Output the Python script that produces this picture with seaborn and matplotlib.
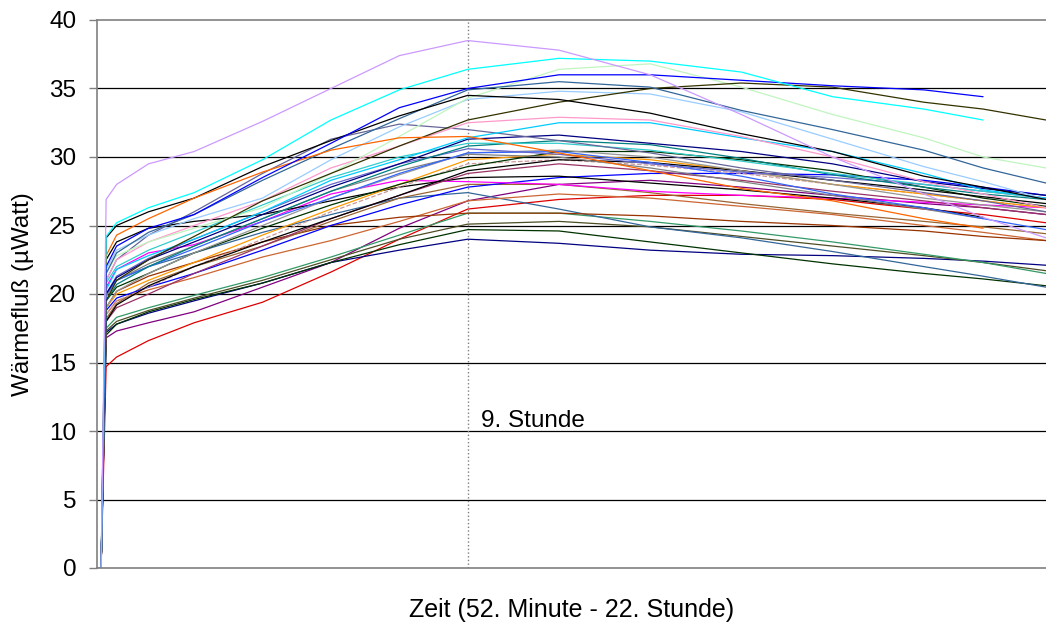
import numpy as np
import pandas as pd
import matplotlib
matplotlib.use("Agg")
import matplotlib.pyplot as plt
import seaborn as sns

# time axis in hours (52nd minute .. ~22nd hour)
time_h = [0.87, 0.96, 1.07, 1.3, 2.0, 3.0, 4.5, 6.0, 7.5, 9.0, 11.0, 13.0, 15.0, 17.0, 19.0, 20.3, 21.68]
onset = [0.0, 0.0]  # all curves sit at 0 before the jump

# heat flow (µWatt) per sample, values after the onset jump
lavender = [26.9, 28.0, 29.5, 30.4, 32.6, 35.0, 37.4, 38.5, 37.8, 36.0, 33.1, 30.0, 27.3, 25.6, 24.1]
cyan = [24.2, 25.2, 26.3, 27.4, 29.8, 32.7, 34.9, 36.4, 37.2, 37.0, 36.2, 34.4, 33.5, 32.7, None]
blue_top = [22.0, 23.5, 24.8, 25.8, 28.5, 31.0, 33.6, 35.0, 36.0, 36.0, 35.6, 35.2, 34.9, 34.4, None]
orange_dark = [22.8, 24.3, 25.5, 27.0, 28.9, 30.5, 31.4, 31.5, 30.3, 29.0, 27.7, 26.8, 25.5, 24.8, None]
black_a = [24.1, 25.0, 26.0, 27.0, 29.3, 31.2, 33.0, 34.5, 34.2, 33.2, 31.7, 30.4, 28.6, 27.8, 26.9]
slate_hi = [21.5, 23.0, 24.5, 25.8, 28.3, 30.6, 32.8, 34.9, 35.5, 35.1, 33.4, 32.0, 30.5, 29.2, 28.1]
olive_late = [19.5, 21.0, 22.5, 24.2, 26.8, 28.8, 30.8, 32.7, 34.0, 35.0, 35.4, 35.1, 34.0, 33.5, 32.7]
pale_green = [21.5, 22.8, 23.8, 24.8, 26.3, 28.8, 31.5, 34.3, 36.4, 36.8, 35.1, 33.1, 31.4, 30.0, 29.2]
sky_light = [21.8, 23.2, 24.3, 25.5, 27.0, 29.8, 32.2, 34.2, 34.8, 34.6, 33.3, 31.3, 29.3, 28.2, 26.9]
pink = [21.0, 22.5, 23.8, 25.0, 26.8, 29.2, 30.8, 32.5, 32.9, 32.7, 31.5, 30.0, 28.2, 27.3, 26.3]
sky_deep = [20.3, 21.8, 22.8, 24.0, 26.0, 28.3, 29.8, 31.4, 32.5, 32.5, 31.4, 30.4, 28.8, 27.6, 27.0]
slate = [21.0, 22.5, 24.3, 26.0, 28.8, 31.3, 32.4, 32.0, 31.2, 30.3, 29.2, 28.3, 27.4, 26.8, 26.0]
navy_mid = [20.0, 21.2, 22.5, 23.8, 25.8, 27.8, 29.5, 31.3, 31.6, 31.0, 30.4, 29.5, 28.2, 27.7, 27.2]
teal = [19.5, 20.7, 22.0, 23.5, 25.5, 27.5, 29.3, 30.8, 31.2, 30.9, 29.9, 28.7, 27.8, 27.3, 26.9]
gray_a = [19.0, 20.2, 21.5, 23.0, 25.0, 27.0, 28.7, 30.3, 30.5, 30.0, 29.0, 28.0, 27.0, 26.5, 26.0]
green_black = [19.5, 20.5, 21.5, 23.0, 24.8, 26.5, 28.0, 29.3, 30.4, 30.4, 29.8, 29.0, 27.8, 27.0, 26.4]
orange_light = [19.0, 20.0, 21.0, 22.3, 24.3, 26.2, 28.0, 29.8, 30.2, 29.8, 29.0, 28.0, 27.3, 26.8, 26.3]
rose_dashed = [18.5, 19.5, 20.5, 22.0, 24.0, 26.0, 27.8, 29.5, 29.8, 29.4, 28.8, 28.0, 27.3, 26.8, 26.3]
plum = [18.0, 19.0, 20.0, 21.5, 23.5, 25.5, 27.2, 28.8, 29.5, 29.0, 28.3, 27.5, 26.8, 26.3, 25.8]
black_flat = [22.5, 23.8, 24.8, 25.3, 25.8, 26.8, 27.8, 28.5, 28.6, 28.1, 27.6, 27.0, 26.3, 25.6, None]
magenta = [20.5, 21.8, 23.0, 23.6, 25.3, 27.3, 28.3, 28.2, 28.0, 27.5, 27.2, 27.0, 26.7, 26.5, 26.3]
blue_low = [18.8, 19.7, 20.5, 21.5, 23.2, 25.0, 26.5, 27.8, 28.5, 28.8, 28.8, 28.7, 28.3, 27.8, 27.2]
purple = [16.8, 17.3, 17.9, 18.7, 20.5, 22.3, 24.8, 26.8, 28.0, 28.3, 27.8, 27.2, 26.6, 26.3, 25.8]
red = [14.7, 15.4, 16.6, 17.9, 19.4, 21.6, 24.0, 26.2, 26.9, 27.2, 27.2, 26.9, 26.2, 25.8, 25.2]
brown_flat = [19.0, 20.2, 21.3, 22.3, 23.8, 25.0, 25.6, 25.9, 25.9, 25.7, 25.3, 25.0, 24.6, 24.2, 23.9]
sienna = [18.5, 19.5, 20.3, 21.2, 22.7, 23.9, 25.3, 26.8, 27.3, 27.0, 26.4, 25.8, 25.0, 24.5, 23.9]
steel_low = [20.0, 21.0, 22.0, 23.0, 24.5, 25.8, 27.0, 27.4, 26.2, 24.9, 24.1, 23.1, 22.0, 21.3, 20.5]
sea_green = [17.5, 18.3, 19.0, 19.9, 21.2, 22.7, 24.3, 25.9, 25.9, 25.3, 24.6, 23.8, 22.9, 22.3, 21.5]
olive_flat = [17.3, 18.0, 18.8, 19.7, 21.0, 22.5, 24.0, 25.1, 25.3, 24.9, 24.2, 23.5, 22.8, 22.3, 21.7]
dark_green = [17.0, 17.8, 18.7, 19.6, 20.8, 22.3, 23.6, 24.7, 24.6, 23.8, 23.0, 22.2, 21.5, 21.1, 20.6]
navy_low = [17.2, 17.8, 18.6, 19.5, 20.8, 22.3, 23.2, 24.0, 23.7, 23.2, 22.9, 22.8, 22.6, 22.4, 22.1]
royal_blue = [20.0, 21.0, 22.0, 23.3, 25.3, 27.0, 28.8, 30.3, 30.4, 29.6, 28.6, 27.3, 26.3, 25.5, 24.7]
gray_b = [19.8, 21.0, 22.2, 23.5, 25.5, 27.5, 29.0, 30.2, 30.0, 29.2, 28.2, 27.2, 26.2, 25.5, None]
brown_mid = [18.2, 19.3, 20.8, 22.0, 23.5, 25.3, 27.0, 28.0, 28.0, 27.4, 26.6, 25.9, 25.3, 24.9, 24.4]
turquoise = [20.8, 22.0, 23.2, 24.5, 26.5, 28.5, 30.0, 31.0, 31.0, 30.5, 29.7, 28.8, 28.0, 27.5, 27.0]
black_low = [18.0, 19.2, 20.6, 22.0, 23.8, 25.5, 27.2, 29.0, 29.8, 29.6, 29.0, 28.3, 27.6, 27.1, 26.6]
periwinkle = [20.0, 21.3, 22.6, 24.0, 26.0, 28.0, 29.5, 30.6, 30.2, 29.5, 28.9, 28.5, 28.0, 27.5, 27.0]

marker_hour = 9.0
marker_label = "9. Stunde"
y_ticks = [0, 5, 10, 15, 20, 25, 30, 35, 40]

series = [
    (red, "#DD0000", "-"), (purple, "#800080", "-"), (navy_low, "#000080", "-"),
    (dark_green, "#003300", "-"), (olive_flat, "#4D4D26", "-"), (sea_green, "#339966", "-"),
    (steel_low, "#336699", "-"), (sienna, "#CC6633", "-"), (brown_flat, "#993300", "-"),
    (brown_mid, "#996633", "-"), (blue_low, "#0000FF", "-"), (magenta, "#FF00FF", "-"),
    (black_flat, "#000000", "-"), (plum, "#993366", "-"), (rose_dashed, "#CC9999", "--"),
    (orange_light, "#FF9900", "-"), (green_black, "#003300", "-"), (black_low, "#000000", "-"),
    (gray_a, "#969696", "-"), (gray_b, "#808080", "-"), (royal_blue, "#3366FF", "-"),
    (periwinkle, "#6666CC", "-"), (teal, "#008080", "-"), (turquoise, "#33CCCC", "-"),
    (navy_mid, "#000080", "-"), (slate, "#666699", "-"), (sky_deep, "#00CCFF", "-"),
    (pink, "#FF99CC", "-"), (sky_light, "#99CCFF", "-"), (pale_green, "#C0F5C0", "-"),
    (olive_late, "#333300", "-"), (slate_hi, "#336699", "-"), (black_a, "#000000", "-"),
    (orange_dark, "#FF6600", "-"), (blue_top, "#0000FF", "-"), (cyan, "#00FFFF", "-"),
    (lavender, "#CC99FF", "-"),
]

sns.set_theme(style="white")
plt.rcParams['font.family'] = ['Liberation Sans', 'DejaVu Sans']
plt.rcParams['text.color'] = 'black'
plt.rcParams['axes.labelcolor'] = 'black'
plt.rcParams['ytick.color'] = 'black'

W, H = 1046, 626
fig = plt.figure(figsize=(W / 100, H / 100), dpi=100)
ax = fig.add_axes([97 / W, 1 - 568 / H, (W - 97) / W, (568 - 20) / H])

for yv in y_ticks[1:-1]:
    ax.axhline(yv, color="black", lw=0.9, zorder=0.5)

for vals, color, ls in series:
    yv = np.array(onset + [np.nan if v is None else v for v in vals], dtype=float)
    df = pd.DataFrame({"t": time_h, "v": yv}).dropna()
    sns.lineplot(data=df, x="t", y="v", color=color, linestyle=ls, lw=0.9,
                 ax=ax, sort=False, estimator=None, zorder=2)

ax.axvline(marker_hour, color="#808080", ls=":", lw=1.0, zorder=1.5)
ax.text(9.28, 10.3, marker_label, fontsize=17.5, va="baseline", ha="left", color="black")

ax.set_xlim(time_h[0], time_h[-1])
ax.set_ylim(0, 40)
ax.set_xticks([])
ax.set_yticks(y_ticks)
ax.tick_params(axis="y", direction="out", length=6, width=1, color="#808080",
               labelcolor="black", labelsize=17.5, pad=9, left=True)
for s in ["left", "bottom", "top"]:
    ax.spines[s].set_color("#808080")
    ax.spines[s].set_linewidth(1.2)
ax.spines["right"].set_visible(False)

ax.set_xlabel("Zeit (52. Minute - 22. Stunde)", fontsize=18, color="black")
ax.set_ylabel("Wärmefluß (µWatt)", fontsize=17.5, color="black")
ax.yaxis.set_label_coords(-0.066, 0.5)
ax.xaxis.set_label_coords(0.5, -0.055)
ax.xaxis.label.set_va("top")

fig.savefig("out.png", dpi=100)
